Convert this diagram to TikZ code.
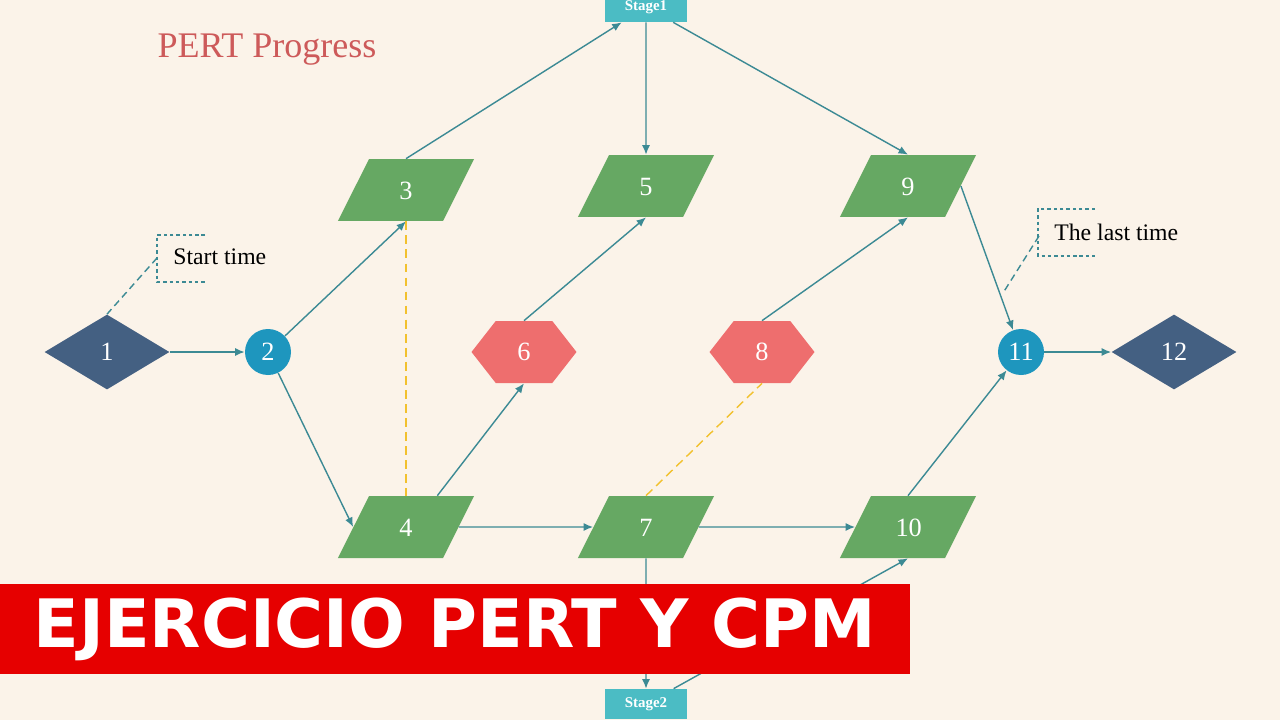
\documentclass[tikz,border=0pt]{standalone}
\usepackage{fontspec}
\setmainfont{Liberation Serif}
\newfontfamily\bannerfont{DejaVu Sans}
\usetikzlibrary{arrows.meta, positioning, shapes.geometric, shapes.symbols}
\definecolor{PaperBack}{RGB}{251, 243, 233}
\definecolor{StartBlue}{RGB}{68, 96, 130}
\definecolor{EventBlue}{RGB}{30, 150, 190}
\definecolor{TaskGreen}{RGB}{102, 168, 99}
\definecolor{DummyRed}{RGB}{238, 110, 110}
\definecolor{StageTeal}{RGB}{75, 188, 196}
\definecolor{FlowTeal}{RGB}{60, 138, 148}
\definecolor{DummyYellow}{RGB}{242, 193, 46}
\definecolor{TitleRed}{RGB}{205, 90, 90}
\definecolor{BannerRed}{RGB}{230, 0, 0}

\begin{document}
\begin{tikzpicture}[
    x=0.02cm, y=-0.02cm,
    font=\fontsize{15}{18}\selectfont,
    terminal/.style={
        diamond,
        fill=StartBlue,            % Start and end points
        aspect=1.67,
        inner sep=0pt,
        minimum width=2.5cm,
        minimum height=1.5cm,
        text=white
    },
    event/.style={
        circle,
        fill=EventBlue,
        inner sep=0pt,
        minimum size=0.92cm,
        text=white
    },
    task/.style={
        trapezium,
        trapezium left angle=63.4,
        trapezium right angle=116.6,
        fill=TaskGreen,
        text width=0.5cm,
        align=center,
        text height=0.37cm,
        text depth=0cm,
        inner xsep=0.49cm,
        inner ysep=0.435cm,
        text=white
    },
    dummy/.style={
        signal,
        signal to=west and east,
        signal pointer angle=104,
        fill=DummyRed,
        inner sep=0pt,
        minimum width=2.1cm,
        minimum height=1.24cm,
        text=white
    },
    stagebox/.style={
        rectangle,
        fill=StageTeal,
        inner sep=0pt,
        minimum width=1.64cm,
        minimum height=0.6cm,
        text=white,
        font=\fontsize{8.5}{10}\selectfont\bfseries
    },
    flow/.style={
        -{Latex[length=1.9mm, width=1.6mm]},
        draw=FlowTeal,
        line width=0.8pt
    },
    slack/.style={
        draw=DummyYellow,
        line width=0.8pt,
        dash pattern=on 5pt off 3pt
    },
    callout/.style={
        draw=FlowTeal,
        line width=0.8pt,
        dash pattern=on 2pt off 1.6pt
    },
    leader/.style={
        draw=FlowTeal,
        line width=0.8pt,
        dash pattern=on 4pt off 2.5pt
    },
    note_text/.style={
        anchor=west,
        font=\fontsize{13.5}{16}\selectfont,
        text=black,
        inner sep=0pt
    }
]

    % --- 0. Canvas ---
    \fill[PaperBack] (0,0) rectangle (1280,720);
    \useasboundingbox (0,0) rectangle (1280,720);

    \node[text=TitleRed, font=\fontsize{20.5}{24}\selectfont] (title) at (267,50) {PERT Progress};

    % --- 1. Nodes ---
    \node[terminal] (n1) at (107,352) {1};
    \node[event] (n2) at (268,352) {2};
    \node[task] (n3) at (406,190) {3};
    \node[task] (n5) at (646,186) {5};
    \node[task] (n9) at (908,186) {9};
    \node[task] (n4) at (406,527) {4};
    \node[task] (n7) at (646,527) {7};
    \node[task] (n10) at (908,527) {10};
    \node[dummy] (n6) at (524,352) {6};
    \node[dummy] (n8) at (762,352) {8};
    \node[event] (n11) at (1021,352) {11};
    \node[terminal] (n12) at (1174,352) {12};

    \node[stagebox] (stage1) at (646,7) {Stage1};
    \node[stagebox] (stage2) at (646,704) {Stage2};

    % --- 2. Activities ---
    \draw[flow] (n1) -- (n2);
    \draw[flow] (n2) -- (n3.south);
    \draw[flow] (n2) -- (n4.west);
    \draw[flow] (n3.north) -- (stage1);
    \draw[flow] (stage1) -- (n5);
    \draw[flow] (stage1) -- (n9.north);
    \draw[flow] (n4.north east) -- (n6.south);
    \draw[flow] (n6.north) -- (n5.south);
    \draw[flow] (n4) -- (n7);
    \draw[flow] (n7) -- (n10);
    \draw[flow] (n8.north) -- (n9.south);
    \draw[flow] (n9.east) -- (n11);
    \draw[flow] (n10.north) -- (n11);
    \draw[flow] (n11) -- (n12);
    \draw[flow] (n7) -- (stage2);
    \draw[flow] (stage2) -- (n10.south);

    % dummy links (dashed)
    \draw[slack] (n3.south) -- (n4.north);
    \draw[slack] (n7.north) -- (n8.south);

    % --- 3. Notes ---
    \node[note_text] (starttxt) at (173,257) {Start time};
    \draw[callout] (205,235) -- (157,235) -- (157,282) -- (205,282);
    \coordinate (startleg) at (157,258);
    \draw[leader] (startleg) -- (n1.north);

    \node[note_text] (lasttxt) at (1054,232) {The last time};
    \draw[callout] (1095,209) -- (1038,209) -- (1038,256) -- (1095,256);
    \coordinate (lastleg) at (1039,236);
    \coordinate (lastfoot) at (1003,293);
    \draw[leader] (lastleg) -- (lastfoot);

    % --- 4. Banner ---
    \fill[BannerRed] (0,584) rectangle (910,674);
    \node[text=white, font=\bannerfont\bfseries\fontsize{38}{44}\selectfont] (banner) at (455,629) {EJERCICIO PERT Y CPM};

\end{tikzpicture}
\end{document}
